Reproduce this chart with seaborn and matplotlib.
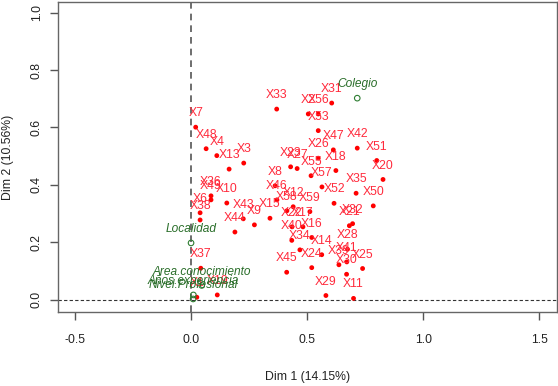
import pandas as pd
import matplotlib.pyplot as plt
import seaborn as sns

# Individuos (rojo)
etiquetas = ['X33', 'X7', 'X48', 'X4', 'X13', 'X3', 'X31', 'X2', 'X56', 'X53',
             'X47', 'X42', 'X51', 'X20', 'X26', 'X18', 'X23', 'X27', 'X55', 'X57',
             'X35', 'X50', 'X52', 'X8', 'X46', 'X58', 'X12', 'X59', 'X15', 'X9',
             'X22', 'X17', 'X40', 'X16', 'X34', 'X14', 'X24', 'X45', 'X29', 'X11',
             'X21', 'X32', 'X28', 'X41', 'X39', 'X30', 'X25', 'X36', 'X49', 'X10',
             'X6', 'X38', 'X43', 'X44', 'X37', 'X19', 'X1']
dim1 = [0.369, 0.020, 0.065, 0.111, 0.164, 0.227, 0.606, 0.505, 0.548, 0.548,
        0.613, 0.716, 0.800, 0.827, 0.548, 0.624, 0.429, 0.457, 0.517, 0.564,
        0.711, 0.785, 0.616, 0.362, 0.370, 0.413, 0.440, 0.512, 0.340, 0.273,
        0.435, 0.482, 0.434, 0.520, 0.469, 0.563, 0.520, 0.412, 0.581, 0.700,
        0.682, 0.696, 0.674, 0.671, 0.637, 0.670, 0.739, 0.086, 0.086, 0.154,
        0.039, 0.039, 0.225, 0.189, 0.042, 0.113, 0.025]
dim2 = [0.664, 0.601, 0.526, 0.502, 0.455, 0.476, 0.685, 0.647, 0.647, 0.589,
        0.522, 0.528, 0.485, 0.419, 0.493, 0.450, 0.463, 0.457, 0.432, 0.393,
        0.371, 0.327, 0.336, 0.397, 0.348, 0.310, 0.324, 0.307, 0.284, 0.261,
        0.254, 0.254, 0.207, 0.217, 0.174, 0.157, 0.112, 0.096, 0.015, 0.005,
        0.258, 0.265, 0.176, 0.132, 0.122, 0.089, 0.109, 0.362, 0.348, 0.337,
        0.303, 0.278, 0.282, 0.236, 0.110, 0.017, 0.009]

# Variables (verde)
variables = ['Colegio', 'Localidad', 'Area.conocimiento', 'Años.experiencia', 'Nivel.Profesional']
var_dim1 = [0.716, 0.0, 0.046, 0.010, 0.009]
var_dim2 = [0.702, 0.198, 0.050, 0.017, 0.003]

df_ind = pd.DataFrame({'Dim1': dim1, 'Dim2': dim2, 'label': etiquetas})
df_var = pd.DataFrame({'Dim1': var_dim1, 'Dim2': var_dim2, 'label': variables})

sns.set_style('white')
plt.rcParams['font.family'] = ['Liberation Sans', 'DejaVu Sans']

fig = plt.figure(figsize=(5.58, 3.86), dpi=100)
ax = fig.add_axes([0.104, 0.192, 0.894, 0.803])

# lineas de referencia
ax.axvline(0, color='#555555', lw=1.2, dashes=(4, 3), zorder=1)
ax.axhline(0, color='#333333', lw=0.8, dashes=(3, 2), zorder=1)

sns.scatterplot(data=df_ind, x='Dim1', y='Dim2', color='red', s=12,
                edgecolor='none', ax=ax, zorder=3)
sns.scatterplot(data=df_var, x='Dim1', y='Dim2', marker='o', s=16,
                facecolor='none', edgecolor='#2e7d32', linewidth=0.8, ax=ax, zorder=3)

for _, r in df_ind.iterrows():
    ax.annotate(r['label'], (r['Dim1'], r['Dim2']), xytext=(0, 10),
                textcoords='offset points', ha='center', va='center',
                color='#ff2a3c', fontsize=8.8, zorder=4)
for _, r in df_var.iterrows():
    ax.annotate(r['label'], (r['Dim1'], r['Dim2']), xytext=(0, 10),
                textcoords='offset points', ha='center', va='center',
                color='#2a6e2a', fontsize=8.6, style='italic', zorder=4)

ax.set_xlim(-0.573, 1.576)
ax.set_ylim(-0.042, 1.037)
ax.set_xticks([-0.5, 0.0, 0.5, 1.0, 1.5])
ax.set_yticks([0.0, 0.2, 0.4, 0.6, 0.8, 1.0])
ax.set_xticklabels(['-0.5', '0.0', '0.5', '1.0', '1.5'])
ax.set_yticklabels(['0.0', '0.2', '0.4', '0.6', '0.8', '1.0'], rotation=90, va='center')
ax.tick_params(axis='both', direction='out', length=6, width=1, color='#555555',
               labelsize=8.8, labelcolor='#222222', bottom=True, left=True)
ax.tick_params(axis='x', pad=10)
ax.tick_params(axis='y', pad=5)
for s in ax.spines.values():
    s.set_color('#666666')
    s.set_linewidth(1)

ax.set_xlabel('Dim 1 (14.15%)', fontsize=8.8, color='#222222', labelpad=18)
ax.set_ylabel('Dim 2 (10.56%)', fontsize=8.8, color='#222222', labelpad=12)

fig.savefig('out.png', dpi=100)
